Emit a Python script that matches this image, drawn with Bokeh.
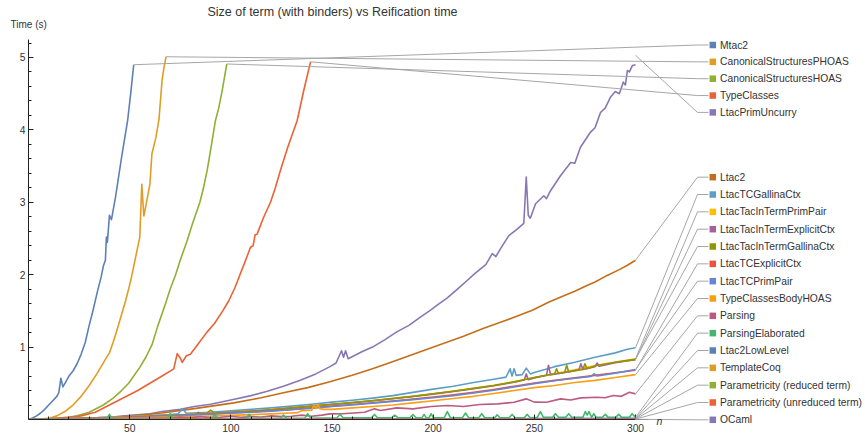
from bokeh.plotting import figure
from bokeh.models import Range1d, FixedTicker
from bokeh.embed import file_html
from bokeh.resources import INLINE
from bokeh.core.properties import value

# ---------------- data: n (term size) vs reification time in seconds ----------------
names = [
    "Mtac2", "CanonicalStructuresPHOAS", "CanonicalStructuresHOAS", "TypeClasses",
    "LtacPrimUncurry", "Ltac2", "LtacTCGallinaCtx", "LtacTacInTermPrimPair",
    "LtacTacInTermExplicitCtx", "LtacTacInTermGallinaCtx", "LtacTCExplicitCtx",
    "LtacTCPrimPair", "TypeClassesBodyHOAS", "Parsing", "ParsingElaborated",
    "Ltac2LowLevel", "TemplateCoq", "Parametricity (reduced term)",
    "Parametricity (unreduced term)", "OCaml",
]
colors = [
    "#5E81B5", "#E19C24", "#8FB032", "#EB6235", "#8778B3", "#C56E1A", "#5D9EC7",
    "#FFBF00", "#A5609D", "#929600", "#E95536", "#6685D9", "#F89F13", "#BC5B80",
    "#47B66D", "#5E81B5", "#E19C24", "#8FB032", "#EB6235", "#8778B3",
]

mtac2_n = [0, 2, 4, 6, 8, 10, 12, 14, 15, 16, 17, 18, 20, 22, 24, 26, 28, 30, 32, 34, 36, 37, 38, 38.5, 39, 40, 41, 43, 46, 49, 50.5, 52]
mtac2_t = [0, 0.02, 0.05, 0.09, 0.14, 0.2, 0.26, 0.32, 0.37, 0.57, 0.45, 0.5, 0.6, 0.67, 0.77, 0.9, 1.06, 1.3, 1.52, 1.76, 1.98, 2.12, 2.2, 2.52, 2.45, 2.82, 2.76, 3.07, 3.62, 4.13, 4.5, 4.9]

csphoas_n = [0, 5, 10, 14, 18, 22, 26, 30, 34, 38, 40, 42, 44, 46, 48, 50, 51, 53, 55, 56, 57, 58, 60, 61, 63, 64.5, 66, 67, 68]
csphoas_t = [0, 0.005, 0.015, 0.05, 0.11, 0.2, 0.32, 0.47, 0.64, 0.83, 0.92, 1.08, 1.26, 1.45, 1.64, 1.86, 1.98, 2.25, 2.52, 3.25, 2.81, 2.95, 3.25, 3.67, 3.9, 4.15, 4.68, 4.87, 5.01]

cshoas_n = [0, 10, 20, 24, 30, 37, 42, 46, 49.5, 55, 58, 61, 64, 67.7, 70, 72.7, 75, 78.4, 81, 84.7, 86.5, 88.3, 90, 92.4, 94, 95.7, 98]
cshoas_t = [0, 0.01, 0.03, 0.05, 0.1, 0.2, 0.3, 0.4, 0.5, 0.72, 0.86, 1.03, 1.3, 1.6, 1.8, 2.0, 2.2, 2.47, 2.7, 3.0, 3.2, 3.44, 3.72, 4.13, 4.3, 4.54, 4.91]

tc_n = [0, 10, 20, 26, 33, 40, 47, 54, 60, 66, 71.8, 73.5, 75, 76, 78, 80, 84, 88, 92, 96, 99, 102, 104.5, 108, 109.7, 111, 112, 113, 116, 119.6, 122, 124.5, 128, 132.8, 136, 139.4]
tc_t = [0, 0.01, 0.03, 0.05, 0.1, 0.2, 0.3, 0.4, 0.5, 0.6, 0.7, 0.91, 0.85, 0.79, 0.88, 0.9, 1.05, 1.2, 1.33, 1.5, 1.64, 1.82, 2.0, 2.25, 2.38, 2.4, 2.55, 2.56, 2.78, 3.0, 3.2, 3.44, 3.75, 4.13, 4.54, 4.94]

lpu_n = [0, 10, 20, 30, 40, 52, 60, 66, 75, 82, 90, 100, 110, 118, 126, 134, 142, 149, 152, 154.7, 155.7, 156.7, 158, 165, 170, 176, 182, 188, 193, 198.7, 203, 207, 212, 216.8, 220, 223.4, 226, 229.2, 231, 233.3, 237.4, 241.5, 244.8, 246, 247, 248, 250.6, 254.7, 256, 258, 263, 268, 270, 272.8, 277.8, 280, 282.7, 285, 287.6, 290, 292, 294, 295, 296, 297, 298.5, 300]
lpu_t = [0, 0.005, 0.01, 0.02, 0.03, 0.06, 0.08, 0.11, 0.14, 0.18, 0.21, 0.27, 0.33, 0.39, 0.46, 0.54, 0.63, 0.73, 0.78, 0.95, 0.86, 0.95, 0.84, 0.94, 1.0, 1.1, 1.21, 1.3, 1.4, 1.51, 1.6, 1.68, 1.8, 1.92, 2.0, 2.08, 2.14, 2.29, 2.25, 2.36, 2.54, 2.63, 2.71, 3.35, 2.82, 2.78, 2.98, 3.09, 3.05, 3.16, 3.37, 3.55, 3.54, 3.76, 3.97, 4.03, 4.24, 4.3, 4.45, 4.53, 4.5, 4.66, 4.62, 4.82, 4.8, 4.89, 4.9]

ltac2_n = [0, 20, 40, 52, 66, 82, 101.5, 115, 126, 138, 149, 160, 170, 182, 195, 205, 215, 225, 236, 249, 257, 264.6, 270, 276, 280, 286, 292, 296, 300]
ltac2_t = [0, 0.01, 0.03, 0.05, 0.09, 0.15, 0.23, 0.3, 0.37, 0.44, 0.52, 0.61, 0.7, 0.82, 0.95, 1.05, 1.15, 1.26, 1.37, 1.51, 1.62, 1.71, 1.77, 1.85, 1.9, 1.99, 2.07, 2.13, 2.2]

grid10 = [0, 10, 20, 30, 40, 50, 60, 70, 80, 90, 100, 110, 120, 130, 140, 150, 160, 170, 180, 190, 200, 210, 220, 230, 240, 250, 260, 270, 280, 290, 300]

tcgal_n = [0, 10, 20, 30, 40, 50, 60, 70, 74, 76, 78, 90, 100, 110, 120, 130, 140, 150, 160, 170, 180, 190, 200, 210, 220, 230, 236, 238, 239, 240, 241, 244, 246, 248, 250, 260, 270, 280, 290, 296, 300]
tcgal_t = [0, 0.005, 0.012, 0.02, 0.03, 0.04, 0.055, 0.07, 0.08, 0.15, 0.085, 0.10, 0.12, 0.14, 0.16, 0.185, 0.21, 0.24, 0.265, 0.295, 0.33, 0.375, 0.42, 0.46, 0.51, 0.555, 0.585, 0.70, 0.60, 0.70, 0.61, 0.62, 0.71, 0.63, 0.65, 0.73, 0.79, 0.86, 0.92, 0.97, 0.99]

tipp_n = grid10
tipp_t = [0, 0.004, 0.011, 0.018, 0.026, 0.036, 0.046, 0.058, 0.071, 0.086, 0.10, 0.117, 0.137, 0.16, 0.186, 0.21, 0.235, 0.262, 0.292, 0.322, 0.356, 0.392, 0.432, 0.472, 0.522, 0.58, 0.632, 0.685, 0.745, 0.795, 0.84]

tiec_n = [0, 10, 20, 30, 40, 50, 60, 70, 80, 83, 84, 85, 90, 100, 110, 120, 130, 140, 150, 160, 170, 180, 190, 200, 210, 220, 230, 240, 245, 246, 247, 250, 256, 257, 258, 260, 270, 272, 273, 274, 280, 281, 282, 290, 300]
tiec_t = [0, 0.004, 0.01, 0.016, 0.024, 0.034, 0.044, 0.056, 0.069, 0.073, 0.10, 0.075, 0.083, 0.098, 0.113, 0.133, 0.157, 0.183, 0.207, 0.232, 0.258, 0.287, 0.317, 0.35, 0.386, 0.425, 0.465, 0.515, 0.545, 0.63, 0.55, 0.575, 0.61, 0.75, 0.62, 0.625, 0.675, 0.685, 0.77, 0.69, 0.73, 0.78, 0.735, 0.785, 0.825]

tigc_n = [0, 10, 20, 30, 40, 50, 60, 70, 80, 88, 90, 92, 100, 110, 120, 130, 140, 150, 160, 170, 180, 190, 200, 210, 220, 230, 240, 250, 260, 261, 262, 263, 265, 266, 267, 270, 274, 275, 276, 280, 290, 300]
tigc_t = [0, 0.004, 0.01, 0.017, 0.025, 0.035, 0.045, 0.057, 0.07, 0.085, 0.13, 0.088, 0.10, 0.115, 0.135, 0.16, 0.185, 0.21, 0.235, 0.26, 0.29, 0.32, 0.355, 0.39, 0.43, 0.47, 0.52, 0.58, 0.63, 0.70, 0.635, 0.64, 0.65, 0.75, 0.655, 0.675, 0.69, 0.77, 0.70, 0.74, 0.79, 0.83]

tcec_n = grid10
tcec_t = [0, 0.003, 0.008, 0.014, 0.021, 0.03, 0.04, 0.051, 0.063, 0.076, 0.09, 0.104, 0.12, 0.138, 0.16, 0.185, 0.208, 0.232, 0.256, 0.282, 0.31, 0.34, 0.375, 0.415, 0.46, 0.505, 0.54, 0.575, 0.61, 0.645, 0.68]

tcpp_n = [0, 10, 20, 30, 40, 50, 60, 70, 80, 90, 100, 110, 120, 130, 140, 150, 160, 170, 180, 190, 200, 210, 220, 230, 240, 250, 260, 270, 278, 279.5, 281, 290, 300]
tcpp_t = [0, 0.003, 0.007, 0.013, 0.02, 0.028, 0.038, 0.049, 0.06, 0.073, 0.087, 0.1, 0.116, 0.134, 0.155, 0.18, 0.202, 0.226, 0.25, 0.275, 0.30, 0.33, 0.365, 0.405, 0.45, 0.495, 0.535, 0.57, 0.595, 0.63, 0.6, 0.64, 0.69]

tcbh_n = [0, 10, 20, 30, 40, 50, 60, 70, 80, 90, 100, 110, 120, 130, 133, 135, 140, 141, 142, 143, 144, 146, 150, 160, 170, 180, 190, 200, 210, 220, 230, 240, 250, 260, 270, 280, 290, 300]
tcbh_t = [0, 0.002, 0.005, 0.009, 0.014, 0.02, 0.026, 0.033, 0.04, 0.048, 0.057, 0.067, 0.078, 0.09, 0.095, 0.12, 0.13, 0.2, 0.15, 0.21, 0.15, 0.14, 0.14, 0.16, 0.18, 0.2, 0.23, 0.26, 0.29, 0.32, 0.36, 0.4, 0.44, 0.47, 0.51, 0.54, 0.58, 0.62]

parsing_n = [0, 20, 40, 60, 70, 75, 80, 85, 90, 95, 100, 105, 110, 115, 120, 125, 130, 135, 140, 145, 149, 155, 159, 166, 171, 174, 182, 190, 199, 207, 215, 223, 232, 240, 246, 250, 256, 263, 268, 273, 281, 285, 289, 293, 297, 300]
parsing_t = [0, 0.005, 0.01, 0.015, 0.02, 0.035, 0.02, 0.04, 0.025, 0.03, 0.045, 0.03, 0.04, 0.035, 0.05, 0.04, 0.045, 0.06, 0.045, 0.06, 0.078, 0.08, 0.087, 0.1, 0.147, 0.124, 0.161, 0.147, 0.18, 0.193, 0.18, 0.207, 0.216, 0.239, 0.285, 0.24, 0.239, 0.285, 0.27, 0.299, 0.308, 0.3, 0.331, 0.32, 0.377, 0.354]

pelab_n = [0, 38.5, 40, 41.5, 68.5, 70, 71.5, 90.5, 92, 93.5, 107.5, 109, 110.5, 124.5, 126, 127.5,
           136.5, 138, 139.5, 152.5, 154, 155.5, 169.5, 171, 172.5, 179.5, 181, 182.5, 188.5, 190, 191.5,
           194.5, 195.5, 196.5, 198, 199, 200, 205.5, 207, 208.5, 214.5, 216, 217.5, 222.5, 224, 225.5,
           230.5, 231.6, 233, 237.5, 239, 240.5, 245, 246.4, 248, 251.5, 253, 254.5, 259, 260.4, 262,
           265.5, 267, 268.5, 274, 275.2, 276.1, 277, 278.3, 279.4, 280.5, 283.5, 285.1, 286.5,
           290.2, 291.7, 293.2, 297, 298.3, 300]
pelab_t = [0.005, 0.008, 0.07, 0.008, 0.008, 0.08, 0.008, 0.01, 0.07, 0.01, 0.015, 0.07, 0.015, 0.015, 0.06, 0.015,
           0.015, 0.08, 0.015, 0.025, 0.07, 0.025, 0.025, 0.07, 0.025, 0.025, 0.06, 0.025, 0.025, 0.07, 0.025,
           0.025, 0.07, 0.025, 0.025, 0.08, 0.025, 0.025, 0.11, 0.025, 0.025, 0.09, 0.025, 0.025, 0.08, 0.025,
           0.025, 0.065, 0.025, 0.025, 0.07, 0.025, 0.025, 0.07, 0.025, 0.03, 0.11, 0.03, 0.03, 0.08, 0.03,
           0.03, 0.08, 0.03, 0.03, 0.11, 0.06, 0.11, 0.03, 0.08, 0.03, 0.03, 0.07, 0.03,
           0.03, 0.07, 0.03, 0.03, 0.08, 0.03]

low_n = [0, 50, 100, 150, 200, 250, 300]
ltac2low_t = [0, 0.002, 0.004, 0.006, 0.009, 0.012, 0.015]
templatecoq_t = [0, 0.002, 0.003, 0.005, 0.007, 0.009, 0.011]
paramred_t = [0, 0.001, 0.003, 0.004, 0.005, 0.007, 0.008]
paramunred_t = [0, 0.001, 0.002, 0.003, 0.004, 0.005, 0.006]
ocaml_t = [0, 0.0005, 0.001, 0.0015, 0.002, 0.0025, 0.003]

series_n = [mtac2_n, csphoas_n, cshoas_n, tc_n, lpu_n, ltac2_n, tcgal_n, tipp_n, tiec_n,
            tigc_n, tcec_n, tcpp_n, tcbh_n, parsing_n, pelab_n, low_n, low_n, low_n, low_n, low_n]
series_t = [mtac2_t, csphoas_t, cshoas_t, tc_t, lpu_t, ltac2_t, tcgal_t, tipp_t, tiec_t,
            tigc_t, tcec_t, tcpp_t, tcbh_t, parsing_t, pelab_t, ltac2low_t, templatecoq_t,
            paramred_t, paramunred_t, ocaml_t]

x_major = [50, 100, 150, 200, 250, 300]
x_minor = [10, 20, 30, 40, 60, 70, 80, 90, 110, 120, 130, 140, 160, 170, 180, 190,
           210, 220, 230, 240, 260, 270, 280, 290]
y_major = [1, 2, 3, 4, 5]
y_minor = [0.2, 0.4, 0.6, 0.8, 1.2, 1.4, 1.6, 1.8, 2.2, 2.4, 2.6, 2.8, 3.2, 3.4, 3.6, 3.8,
           4.2, 4.4, 4.6, 4.8, 5.2]

# ---------------- canvas geometry ----------------
W, H = 865, 445
LEFT, BOTTOM = 28, 26
FRAME_H = H - BOTTOM
X_MAX = 413.67
Y_MAX = 5.787
PX_N = (W - LEFT) / X_MAX
PX_T = FRAME_H / Y_MAX


def sx_to_n(sx):
    return (sx - LEFT) / PX_N


def sy_to_t(sy):
    return (FRAME_H - sy) / PX_T


FONT = "Liberation Sans"
TXT = "#333333"

p = figure(width=W, height=H, x_range=Range1d(0, X_MAX), y_range=Range1d(0, Y_MAX),
           output_backend="svg", toolbar_location=None, title=None,
           min_border_left=LEFT, min_border_right=0, min_border_top=0,
           min_border_bottom=BOTTOM)
p.outline_line_color = None
p.xgrid.visible = False
p.ygrid.visible = False
p.background_fill_color = "white"
p.border_fill_color = "white"

for ax in (p.xaxis[0], p.yaxis[0]):
    ax.axis_line_color = "#222222"
    ax.major_tick_line_color = "#222222"
    ax.minor_tick_line_color = "#222222"
    ax.major_tick_in = 5
    ax.major_tick_out = 0
    ax.minor_tick_in = 3
    ax.minor_tick_out = 0
    ax.major_label_text_font = FONT
    ax.major_label_text_font_size = "10.3px"
    ax.major_label_text_color = TXT

p.xaxis.ticker = FixedTicker(ticks=x_major, minor_ticks=x_minor)
p.xaxis.bounds = (0, 306.5)
p.xaxis.major_label_standoff = 4
p.yaxis.ticker = FixedTicker(ticks=y_major, minor_ticks=y_minor)
p.yaxis.bounds = (0, 5.25)
p.yaxis.major_label_standoff = 3

# curves
for n_vals, t_vals, c in zip(series_n, series_t, colors):
    p.line(n_vals, t_vals, line_color=c, line_width=1.6, line_join="round")

# callout labels: two stacked columns at the right
group1 = list(range(5))
group2 = list(range(5, 20))
label_sy = {}
for i, k in enumerate(group1):
    label_sy[k] = 44.5 + 16.85 * i
for i, k in enumerate(group2):
    label_sy[k] = 176.7 + 17.33 * i

SQ_X, TXT_X, ELBOW_X, LEAD_END = 712.3, 719.5, 697.0, 708.0

lead_xs, lead_ys = [], []
for k in range(20):
    n0, t0 = series_n[k][-1], series_t[k][-1]
    if names[k] == "LtacPrimUncurry":
        t0 = 5.03
    ly = sy_to_t(label_sy[k])
    lead_xs.append([n0, sx_to_n(ELBOW_X), sx_to_n(LEAD_END)])
    lead_ys.append([t0, ly, ly])
p.multi_line(lead_xs, lead_ys, line_color="#a6a6a6", line_width=1.0, level="overlay")

lab_n = [sx_to_n(SQ_X)] * 20
lab_t = [sy_to_t(label_sy[k]) for k in range(20)]
p.scatter(lab_n, lab_t, marker="square", size=6.5, fill_color=colors, line_color=None,
          level="overlay")
p.text([sx_to_n(TXT_X)] * 20, lab_t, text=names, text_font=value(FONT),
       text_font_size="10.3px", text_color=TXT, text_baseline="middle",
       text_align="left", level="overlay")

# title, axis captions
p.text([sx_to_n(332)], [sy_to_t(11.5)], text=["Size of term (with binders) vs Reification time"],
       text_font=value(FONT), text_font_size="12.5px", text_color=TXT,
       text_baseline="middle", text_align="center", level="overlay")
p.text([sx_to_n(10)], [sy_to_t(24)], text=["Time (s)"], text_font=value(FONT),
       text_font_size="10px", text_color=TXT, text_baseline="middle",
       text_align="left", level="overlay")
p.text([sx_to_n(656)], [sy_to_t(420)], text=["n"], text_font=value(FONT),
       text_font_size="10.5px", text_font_style="italic", text_color=TXT,
       text_baseline="middle", text_align="left", level="overlay")

open("out.html", "w").write(file_html(p, INLINE))
